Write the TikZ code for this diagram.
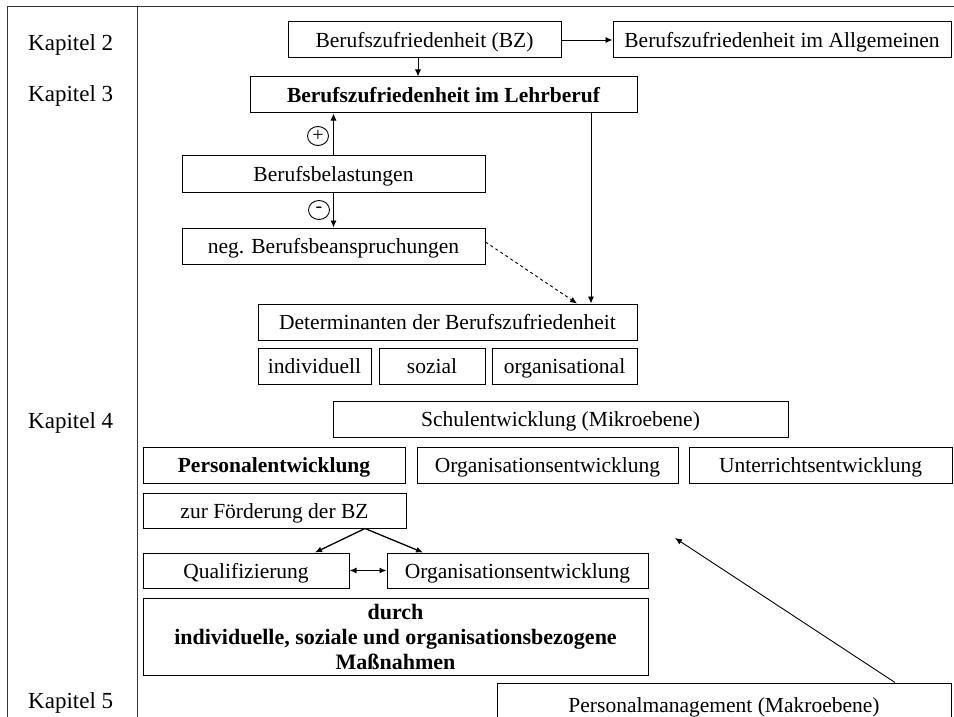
\documentclass[tikz,border=0pt]{standalone}
\usepackage{fontspec}
\setmainfont{Liberation Serif}
\usetikzlibrary{arrows.meta,calc,shapes.geometric}
\begin{document}
\begin{tikzpicture}[x=1pt,y=-1pt,
  bx/.style={draw, line width=1pt, minimum height=36pt, inner sep=0pt, align=center,
    font=\fontsize{21.5}{25}\selectfont},
  one/.style={text height=17pt, text depth=2pt},
  kap/.style={anchor=base west, inner sep=0pt, font=\fontsize{23}{26}\selectfont},
  arr/.style={line width=0.9pt, -{Latex[length=7pt,width=6pt]}},
  sgn/.style={draw, ellipse, line width=0.9pt, minimum width=21pt, minimum height=19pt, inner sep=0pt, font=\fontsize{20}{20}\selectfont},
  frame/.style={line width=1pt, draw=black!80}]
\useasboundingbox (0,0) rectangle (954,717);
\fill[white] (0,0) rectangle (954,717);
% frame
\draw[frame] (7,717) -- (7,7) -- (954,7);
\draw[frame] (137,7) -- (137,717);
% chapter labels
\node[kap] (k2) at (28,51) {Kapitel 2};
\node[kap] (k3) at (28,102) {Kapitel 3};
\node[kap] (k4) at (28,428) {Kapitel 4};
\node[kap] (k5) at (28,708) {Kapitel 5};
% boxes
\node[bx, one, minimum width=273pt] (bz) at (424.5,40) {Berufszufriedenheit (BZ)};
\node[bx, one, minimum width=338pt] (allg) at (782,40) {Berufszufriedenheit im Allgemeinen};
\node[bx, one, minimum width=387pt, font=\fontsize{21.5}{25}\selectfont\bfseries] (lehr) at (443.5,95) {Berufszufriedenheit im Lehrberuf};
\node[bx, one, minimum width=303pt, minimum height=37pt] (bel) at (333.5,173.5) {Berufsbelastungen};
\node[bx, one, minimum width=303pt] (neg) at (333.5,246) {neg. Berufsbeanspruchungen};
\node[bx, one, minimum width=379pt] (det) at (447.5,322) {Determinanten der Berufszufriedenheit};
\node[bx, one, minimum width=113pt] (ind) at (314.5,366) {individuell};
\node[bx, one, minimum width=106pt] (soz) at (432,366) {sozial};
\node[bx, one, minimum width=145pt] (org) at (564.5,366) {organisational};
\node[bx, one, minimum width=455pt] (schul) at (560.5,419) {Schulentwicklung (Mikroebene)};
\node[bx, one, minimum width=262pt, font=\fontsize{21.5}{25}\selectfont\bfseries] (pers) at (274,465) {Personalentwicklung};
\node[bx, one, minimum width=261pt] (orge) at (547.5,465) {Organisationsentwicklung};
\node[bx, one, minimum width=263pt] (unt) at (820.5,465) {Unterrichtsentwicklung};
\node[bx, one, minimum width=263pt, minimum height=35pt] (foerd) at (274.5,510.5) {zur Förderung der BZ};
\node[bx, one, minimum width=206pt, minimum height=35pt] (qual) at (246,570.5) {Qualifizierung};
\node[bx, one, minimum width=261pt, minimum height=35pt] (org2) at (517.5,570.5) {Organisationsentwicklung};
\node[bx, minimum width=505pt, minimum height=77pt, font=\fontsize{22}{25}\selectfont\bfseries] (durch) at (395.5,636.5) {durch\\individuelle, soziale und organisationsbezogene\\Maßnahmen};
\node[bx, one, minimum width=454pt, minimum height=44pt] (pm) at (724,705) {Personalmanagement (Makroebene)};
% signs
\node[sgn] (plus) at (318,136) {+};
\node[sgn] (minus) at (319,210) {-};
% helper coordinates
\coordinate (vx) at (591,0);
\coordinate (tgt) at (675,538);
% connectors
\draw[arr] (bz.east) -- (allg.west);
\draw[arr] ([xshift=-6.5pt]bz.south) -- ([xshift=-6.5pt]bz.south |- lehr.north);
\draw[arr] (bel.north) -- (bel.north |- lehr.south);
\draw[arr] (bel.south) -- (bel.south |- neg.north);
\draw[arr, dashed] ([yshift=4pt]neg.east) -- ([xshift=129.5pt]det.north);
\draw[arr] (lehr.south -| vx) -- (det.north -| vx);
\draw[arr, line width=1.3pt] ([xshift=90.5pt]foerd.south) -- ([xshift=69pt]qual.north);
\draw[arr, line width=1.3pt] ([xshift=90.5pt]foerd.south) -- ([xshift=-94.5pt]org2.north);
\draw[line width=1.1pt, {Latex[length=7pt,width=6pt]}-{Latex[length=7pt,width=6pt]}] (qual.east) -- (org2.west);
\draw[arr] ([xshift=171pt]pm.north) -- (tgt);
\end{tikzpicture}
\end{document}
